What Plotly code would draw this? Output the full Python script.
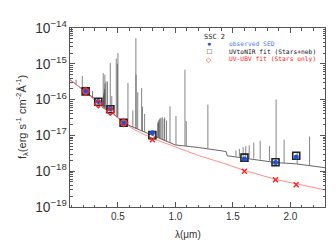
import plotly.graph_objects as go

# ---------------- data ----------------
# model spectrum continuum (Stars+neb), wavelength in micron, flux erg/s/cm2/A
cont_lam = [0.084, 0.15, 0.22, 0.30, 0.33, 0.36, 0.365, 0.40, 0.435, 0.50, 0.55,
            0.65, 0.80, 0.82, 1.0, 1.2, 1.44, 1.45, 1.6, 1.87, 2.05, 2.3]
cont_flux = [3.6e-16, 2.5e-16, 1.7e-16, 1.05e-16, 8.7e-17, 7.6e-17, 6.0e-17, 5.2e-17,
             4.8e-17, 3.2e-17, 2.25e-17, 1.6e-17, 1.0e-17, 9.3e-18, 5.4e-18, 4.6e-18,
             3.55e-18, 2.7e-18, 2.35e-18, 1.75e-18, 1.6e-18, 1.25e-18]

# emission lines: wavelength, base flux, peak flux
line_lam = [0.1370, 0.1909, 0.2798, 0.3727, 0.3750, 0.3771, 0.3798, 0.3835, 0.3869, 0.3889,
            0.3970, 0.4102, 0.4340, 0.4471, 0.4861, 0.4959, 0.5007, 0.5876, 0.6300,
            0.6563, 0.6583, 0.6725, 0.7065, 0.7136, 0.7325, 0.8467, 0.8502, 0.8545,
            0.8598, 0.8665, 0.8750, 0.8863, 0.9015, 0.9069, 0.9229, 0.9532, 1.005,
            1.083, 1.094, 1.282, 1.5265, 1.5561, 1.5885, 1.6114, 1.6412, 1.6811,
            1.7367, 1.8174, 1.8751, 1.9446, 2.0587, 2.1661]
line_base = [2.7e-16, 2.2e-16, 1.12e-16, 6.0e-17, 6.0e-17, 6.0e-17, 5.9e-17, 5.8e-17, 5.7e-17,
             5.7e-17, 5.5e-17, 5.1e-17, 4.8e-17, 4.5e-17, 3.5e-17, 3.3e-17, 3.2e-17,
             1.9e-17, 1.7e-17, 1.55e-17, 1.55e-17, 1.5e-17, 1.35e-17, 1.3e-17, 1.25e-17,
             8.9e-18, 8.8e-18, 8.6e-18, 8.4e-18, 8.2e-18, 7.9e-18, 7.6e-18, 7.2e-18,
             7.1e-18, 6.7e-18, 6.2e-18, 5.35e-18, 5.1e-18, 5.05e-18, 4.4e-18, 2.6e-18,
             2.55e-18, 2.45e-18, 2.4e-18, 2.33e-18, 2.27e-18, 2.15e-18, 1.95e-18,
             1.74e-18, 1.7e-18, 1.6e-18, 1.45e-18]
line_peak = [3.6e-16, 4.6e-16, 1.75e-16, 5.5e-16, 1.25e-16, 1.4e-16, 1.6e-16, 2.0e-16, 5.0e-16,
             2.8e-16, 3.2e-16, 3.2e-16, 1.05e-15, 1.25e-16, 1.4e-15, 1.0e-15, 2.0e-15,
             2.9e-16, 5.0e-17, 5.2e-15, 5.0e-16, 1.6e-16, 2.1e-16, 6.3e-17, 4.0e-17,
             2.2e-17, 2.4e-17, 2.6e-17, 2.8e-17, 3.0e-17, 3.1e-17, 3.2e-17, 2.9e-17,
             3.2e-17, 2.6e-17, 6.5e-17, 3.5e-17, 6.8e-16, 2.5e-17, 7.2e-17, 3.8e-18,
             4.2e-18, 4.7e-18, 5.0e-18, 5.3e-18, 6.3e-18, 7.1e-18, 5.0e-18, 1.0e-16,
             7.6e-18, 3.5e-18, 9.3e-18]

# UV-UBV fit (Stars only) model spectrum
red_lam = [0.084, 0.15, 0.22, 0.33, 0.365, 0.435, 0.55, 0.65, 0.80, 1.0, 1.2, 1.41,
           1.6, 1.87, 2.05, 2.3]
red_flux = [3.6e-16, 2.5e-16, 1.62e-16, 7.6e-17, 6.3e-17, 4.5e-17, 2.25e-17, 1.4e-17,
            8.3e-18, 4.7e-18, 2.75e-18, 1.7e-18, 1.05e-18, 5.9e-19, 4.4e-19, 3.0e-19]

# photometric bands
band_lam = [0.22, 0.33, 0.435, 0.55, 0.80, 1.60, 1.87, 2.05]
obs_flux = [1.7e-16, 8.9e-17, 5.6e-17, 2.25e-17, 1.18e-17, 2.2e-18, 1.75e-18, 2.5e-18]
fit_neb_flux = [1.7e-16, 8.7e-17, 5.4e-17, 2.25e-17, 1.02e-17, 2.4e-18, 1.78e-18, 2.7e-18]
fit_star_uv_lam = [0.22, 0.33, 0.435, 0.55]
fit_star_uv_flux = [1.7e-16, 7.6e-17, 4.7e-17, 2.25e-17]
fit_star_ir_lam = [0.80, 1.60, 1.87, 2.05]
fit_star_ir_flux = [7.6e-18, 1.0e-18, 5.8e-19, 4.2e-19]

x_ticks = [0.5, 1.0, 1.5, 2.0]

# ---------------- figure ----------------
BLUE = "#1b52d8"
RED = "#ff2020"
fig = go.Figure()

# emission line spikes
sx, sy = [], []
for lam, b, p in zip(line_lam, line_base, line_peak):
    sx += [lam, lam, None]
    sy += [b, p, None]
fig.add_trace(go.Scatter(x=sx, y=sy, mode="lines",
                         line=dict(color="rgba(80,80,80,0.7)", width=1),
                         hoverinfo="skip", showlegend=False))
# continuum
fig.add_trace(go.Scatter(x=cont_lam, y=cont_flux, mode="lines",
                         line=dict(color="#555555", width=0.9),
                         showlegend=False))
# stars only model
fig.add_trace(go.Scatter(x=red_lam, y=red_flux, mode="lines",
                         line=dict(color="#ff8080", width=0.9),
                         showlegend=False))
# UVtoNIR fit squares
fig.add_trace(go.Scatter(x=band_lam, y=fit_neb_flux, mode="markers",
                         marker=dict(symbol="square-open", size=7, color="#222222",
                                     line=dict(color="#222222", width=1.6)),
                         showlegend=False))
# observed SED
fig.add_trace(go.Scatter(x=band_lam, y=obs_flux, mode="markers",
                         marker=dict(symbol="circle", size=5, color=BLUE),
                         showlegend=False))
# stars-only fit
fig.add_trace(go.Scatter(x=fit_star_uv_lam, y=fit_star_uv_flux, mode="markers",
                         marker=dict(symbol="diamond-open", size=6, color=RED,
                                     line=dict(width=1.3)),
                         showlegend=False))
fig.add_trace(go.Scatter(x=fit_star_ir_lam, y=fit_star_ir_flux, mode="markers",
                         marker=dict(symbol="x-thin-open", size=5, color=RED,
                                     line=dict(color=RED, width=1.4)),
                         showlegend=False))

FONT = "Liberation Sans, Arial, sans-serif"
LEG_FONT = "DejaVu Sans Mono, monospace"
ann = [
    dict(text="SSC 2", x=0.566, y=0.95, font=dict(size=7, color="#222", family=LEG_FONT),
         xanchor="center", yanchor="middle"),
    dict(text="●", x=0.547, y=0.912, font=dict(size=7, color=BLUE), xanchor="center", yanchor="middle"),
    dict(text="□", x=0.547, y=0.866, font=dict(size=8, color="#111"), xanchor="center", yanchor="middle"),
    dict(text="◇", x=0.547, y=0.826, font=dict(size=7, color=RED), xanchor="center", yanchor="middle"),
    dict(text="observed SED", x=0.62, y=0.914, font=dict(size=6.3, color="#4a7be8", family=LEG_FONT),
         xanchor="left", yanchor="middle"),
    dict(text="UVtoNIR fit (Stars+neb)", x=0.62, y=0.868, font=dict(size=6.3, color="#111", family=LEG_FONT),
         xanchor="left", yanchor="middle"),
    dict(text="UV-UBV fit (Stars only)", x=0.62, y=0.826, font=dict(size=6.3, color=RED, family=LEG_FONT),
         xanchor="left", yanchor="middle"),
    # axis titles
    dict(text="λ(μm)", x=0.463, y=-0.155, font=dict(size=10, color="#333"),
         xanchor="center", yanchor="middle"),
    dict(text="f<sub>λ</sub>(erg s<sup>-1</sup> cm<sup>-2</sup>Å<sup>-1</sup>)",
         x=-0.19, y=0.5, textangle=-90, font=dict(size=11, color="#333"),
         xanchor="center", yanchor="middle"),
]
for a in ann:
    a.update(xref="paper", yref="paper", showarrow=False, borderpad=0)

fig.update_layout(
    width=336, height=240,
    margin=dict(l=62, r=19, t=20, b=41, autoexpand=False),
    plot_bgcolor="white", paper_bgcolor="white",
    font=dict(family=FONT, size=10, color="#333"),
    showlegend=False,
    annotations=ann,
)
fig.update_xaxes(
    range=[0.084, 2.3], tickvals=x_ticks, ticktext=[f"{v:.1f}" for v in x_ticks],
    ticks="inside", ticklen=5, tickcolor="#555", tickwidth=1,
    showline=True, linecolor="#555", linewidth=1, mirror="allticks",
    showgrid=False, zeroline=False, automargin=False,
    minor=dict(dtick=0.1, ticks="inside", ticklen=2.5, tickcolor="#555", showgrid=False),
    tickfont=dict(size=10, color="#333"),
)
fig.update_yaxes(
    type="log", range=[-19, -14], dtick=1, exponentformat="power",
    ticks="inside", ticklen=5, tickcolor="#555", tickwidth=1,
    showline=True, linecolor="#555", linewidth=1, mirror="allticks",
    showgrid=False, zeroline=False, automargin=False,
    minor=dict(ticks="inside", ticklen=2.5, tickcolor="#555", showgrid=False),
    tickfont=dict(size=11, color="#333"),
)

fig.write_html("out.html")
